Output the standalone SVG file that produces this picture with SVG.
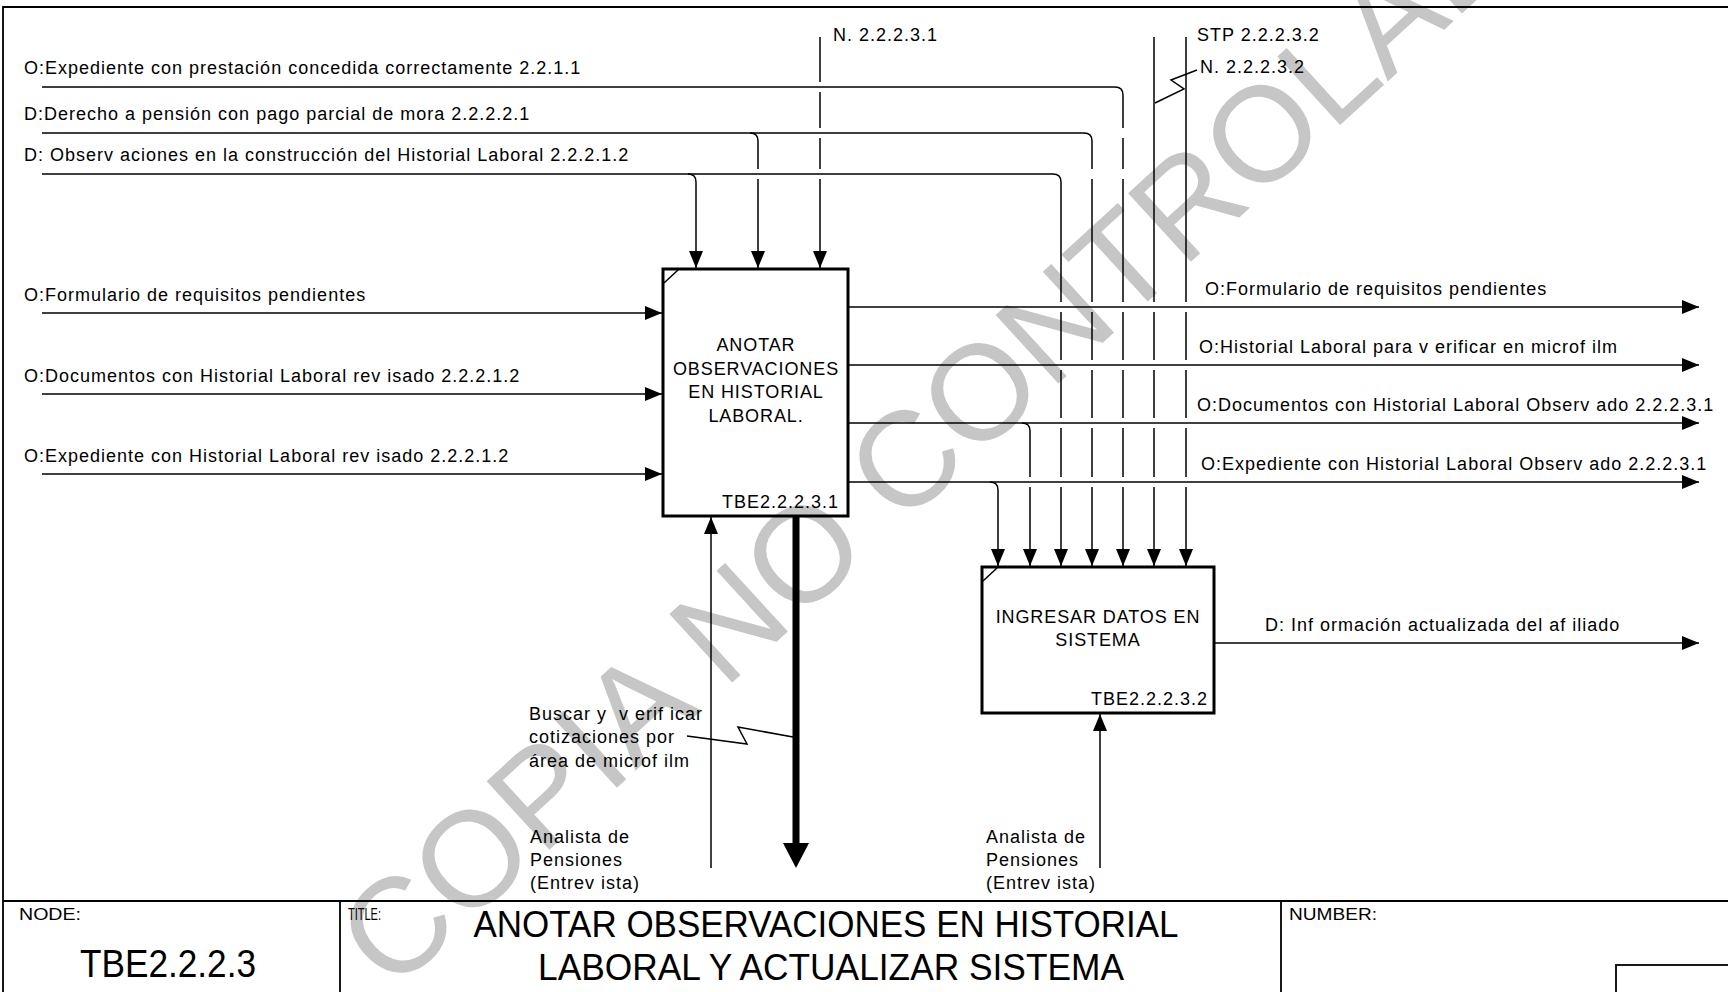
<svg xmlns="http://www.w3.org/2000/svg" width="1728" height="992" viewBox="0 0 1728 992">
<style>
.ln{stroke:#000;stroke-width:1.5;fill:none}
.box{stroke:#000;stroke-width:3;fill:none}
.frame{stroke:#000;stroke-width:1.8;fill:none}
.t{font-family:"Liberation Sans",Arial,sans-serif;font-size:18px;letter-spacing:1px;fill:#000}
.bt{font-family:"Liberation Sans",Arial,sans-serif;font-size:18px;letter-spacing:0.9px;fill:#000;text-anchor:middle}
.s{font-family:"Liberation Sans",Arial,sans-serif;font-size:16px;fill:#000}
.wm{font-family:"Liberation Sans",Arial,sans-serif;font-size:135px;fill:#c6c6c6}
</style>
<defs>
<marker id="arr" viewBox="0 0 17 14" refX="17" refY="7" markerWidth="17" markerHeight="14" markerUnits="userSpaceOnUse" orient="auto">
<path d="M0,0 L17,7 L0,14 z" fill="#000"/>
</marker>
</defs>
<rect x="0" y="0" width="1728" height="992" fill="#fff"/>

<!-- watermark -->
<text class="wm" transform="translate(392,994) rotate(-42.5)">COPIA NO CONTROLADA</text>

<!-- frame -->
<path class="frame" d="M3,992 V7 H1728"/>

<g id="connectors">
<!-- control lines from left -->
<path class="ln" marker-end="url(#arr)" d="M42,87 H1115 Q1123,87 1123,95 V128 M1123,138 V169 M1123,179 V302 M1123,312 V360 M1123,370 V418 M1123,428 V477 M1123,487 V566"/>
<path class="ln" marker-end="url(#arr)" d="M42,133 H1084 Q1092,133 1092,141 V169 M1092,179 V302 M1092,312 V360 M1092,370 V418 M1092,428 V477 M1092,487 V566"/>
<path class="ln" marker-end="url(#arr)" d="M750,133 Q758,133 758,141 V169 M758,179 V268"/>
<path class="ln" marker-end="url(#arr)" d="M42,174 H1053 Q1061,174 1061,182 V302 M1061,312 V360 M1061,370 V418 M1061,428 V477 M1061,487 V566"/>
<path class="ln" marker-end="url(#arr)" d="M688,174 Q696,174 696,182 V268"/>
<path class="ln" marker-end="url(#arr)" d="M820,37 V82 M820,92 V128 M820,138 V169 M820,179 V268"/>
<path class="ln" marker-end="url(#arr)" d="M1154,37 V302 M1154,312 V360 M1154,370 V418 M1154,428 V477 M1154,487 V566"/>
<path class="ln" marker-end="url(#arr)" d="M1186,37 V302 M1186,312 V360 M1186,370 V418 M1186,428 V477 M1186,487 V566"/>
<polyline class="ln" points="1197,70 1171,80 1184,89 1155,103"/>
<!-- inputs -->
<line class="ln" marker-end="url(#arr)" x1="42" y1="313" x2="662" y2="313"/>
<line class="ln" marker-end="url(#arr)" x1="42" y1="394" x2="662" y2="394"/>
<line class="ln" marker-end="url(#arr)" x1="42" y1="474" x2="662" y2="474"/>
<!-- outputs of box 1 -->
<line class="ln" marker-end="url(#arr)" x1="849" y1="307" x2="1699" y2="307"/>
<line class="ln" marker-end="url(#arr)" x1="849" y1="365" x2="1699" y2="365"/>
<line class="ln" marker-end="url(#arr)" x1="849" y1="423" x2="1699" y2="423"/>
<line class="ln" marker-end="url(#arr)" x1="849" y1="482" x2="1699" y2="482"/>
<path class="ln" marker-end="url(#arr)" d="M1022,423 Q1030,423 1030,431 V477 M1030,487 V566"/>
<path class="ln" marker-end="url(#arr)" d="M990,482 Q998,482 998,490 V566"/>
<!-- output of box 2 -->
<line class="ln" marker-end="url(#arr)" x1="1214" y1="643" x2="1699" y2="643"/>
<!-- mechanisms -->
<line class="ln" marker-end="url(#arr)" x1="711" y1="868" x2="711" y2="517"/>
<line class="ln" marker-end="url(#arr)" x1="1100" y1="868" x2="1100" y2="714"/>
<!-- call arrow -->
<line x1="796" y1="516" x2="796" y2="845" stroke="#000" stroke-width="7"/>
<polygon points="783,843 809,843 796,868" fill="#000"/>
<polyline class="ln" points="687,736 747,744 738,727 793,737"/>

<!-- labels -->
<text class="t" x="24" y="74">O:Expediente con prestación concedida correctamente 2.2.1.1</text>
<text class="t" x="24" y="120">D:Derecho a pensión con pago parcial de mora 2.2.2.2.1</text>
<text class="t" x="24" y="161">D: Observ aciones en la construcción del Historial Laboral 2.2.2.1.2</text>
<text class="t" x="833" y="41">N. 2.2.2.3.1</text>
<text class="t" x="1197" y="41">STP 2.2.2.3.2</text>
<text class="t" x="1200" y="73">N. 2.2.2.3.2</text>
<text class="t" x="24" y="301">O:Formulario de requisitos pendientes</text>
<text class="t" x="24" y="382">O:Documentos con Historial Laboral rev isado 2.2.2.1.2</text>
<text class="t" x="24" y="462">O:Expediente con Historial Laboral rev isado 2.2.2.1.2</text>
<text class="t" x="1205" y="295">O:Formulario de requisitos pendientes</text>
<text class="t" x="1199" y="353">O:Historial Laboral para v erificar en microf ilm</text>
<text class="t" x="1197" y="411">O:Documentos con Historial Laboral Observ ado 2.2.2.3.1</text>
<text class="t" x="1201" y="470">O:Expediente con Historial Laboral Observ ado 2.2.2.3.1</text>
<text class="t" x="1265" y="631">D: Inf ormación actualizada del af iliado</text>
<text class="t" x="529" y="720" xml:space="preserve">Buscar y  v erif icar</text>
<text class="t" x="529" y="743">cotizaciones por</text>
<text class="t" x="529" y="767">área de microf ilm</text>
<text class="t" x="530" y="843">Analista de</text>
<text class="t" x="530" y="866">Pensiones</text>
<text class="t" x="530" y="889">(Entrev ista)</text>
<text class="t" x="986" y="843">Analista de</text>
<text class="t" x="986" y="866">Pensiones</text>
<text class="t" x="986" y="889">(Entrev ista)</text>
</g>

<g id="node-A1">
<rect class="box" x="663" y="269" width="185" height="247"/>
<line class="ln" x1="664" y1="283" x2="678" y2="270"/>
<text class="bt" x="756" y="351">ANOTAR</text>
<text class="bt" x="756" y="375">OBSERVACIONES</text>
<text class="bt" x="756" y="398">EN HISTORIAL</text>
<text class="bt" x="756" y="422">LABORAL.</text>
<text class="t" x="839" y="508" text-anchor="end">TBE2.2.2.3.1</text>
</g>

<g id="node-A2">
<rect class="box" x="982" y="567" width="232" height="146"/>
<line class="ln" x1="983" y1="581" x2="997" y2="568"/>
<text class="bt" x="1098" y="623">INGRESAR DATOS EN</text>
<text class="bt" x="1098" y="646">SISTEMA</text>
<text class="t" x="1208" y="705" text-anchor="end">TBE2.2.2.3.2</text>
</g>

<g id="title-block">
<path class="frame" d="M3,901 H1728 M340,901 V992 M1281,901 V992"/>
<rect class="frame" x="1616" y="965" width="200" height="100"/>
<text class="s" x="19" y="920" textLength="62" lengthAdjust="spacingAndGlyphs">NODE:</text>
<text class="s" x="348" y="920" textLength="33" lengthAdjust="spacingAndGlyphs">TITLE:</text>
<text class="s" x="1289" y="920" textLength="88" lengthAdjust="spacingAndGlyphs">NUMBER:</text>
<text x="168" y="977" text-anchor="middle" font-family="Liberation Sans, Arial, sans-serif" font-size="39" textLength="176" lengthAdjust="spacingAndGlyphs">TBE2.2.2.3</text>
<text x="826" y="937" text-anchor="middle" font-family="Liberation Sans, Arial, sans-serif" font-size="37" textLength="705" lengthAdjust="spacingAndGlyphs">ANOTAR OBSERVACIONES EN HISTORIAL</text>
<text x="831" y="980" text-anchor="middle" font-family="Liberation Sans, Arial, sans-serif" font-size="37" textLength="586" lengthAdjust="spacingAndGlyphs">LABORAL Y ACTUALIZAR SISTEMA</text>
</g>
</svg>
